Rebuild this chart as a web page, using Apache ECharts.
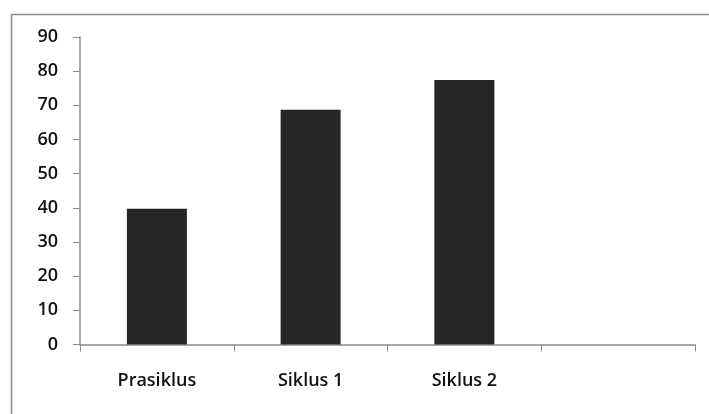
<!DOCTYPE html>
<html>
<head>
<meta charset="utf-8">
<style>
  html, body { margin: 0; padding: 0; background: #fff; }
  #chart { width: 709px; height: 414px; }
</style>
<script src="https://cdn.jsdelivr.net/npm/echarts@6/dist/echarts.min.js"></script>
</head>
<body>
<div id="chart"></div>
<script>
// Categories along the x axis (the last slot is left empty)
const categories = ['Prasiklus', 'Siklus 1', 'Siklus 2', ''];
// Bar values per category
const values = [39.7, 68.7, 77.4, null];
// Value axis range
const yMin = 0;
const yMax = 90;
const yStep = 10;

const chart = echarts.init(document.getElementById('chart'), null, { renderer: 'canvas' });

const labelFont = {
  fontFamily: 'Open Sans',
  fontSize: 18,
  fontWeight: 600,
  color: '#111111'
};

chart.setOption({
  animation: false,
  backgroundColor: '#ffffff',
  graphic: [{
    type: 'rect',
    left: 9,
    top: 12,
    shape: { width: 760, height: 460 },
    style: { fill: 'none', stroke: '#8a8a8a', lineWidth: 1.5 },
    silent: true
  }],
  grid: { left: 80, right: 14, top: 37, bottom: 69.5, containLabel: false },
  xAxis: {
    type: 'category',
    data: categories,
    boundaryGap: true,
    axisLine: { lineStyle: { color: '#8c8c8c', width: 1.5 } },
    axisTick: { show: true, alignWithLabel: false, length: 7, lineStyle: { color: '#8c8c8c' } },
    axisLabel: Object.assign({ margin: 27, interval: 0 }, labelFont),
    splitLine: { show: false }
  },
  yAxis: {
    type: 'value',
    min: yMin,
    max: yMax,
    interval: yStep,
    axisLine: { show: true, lineStyle: { color: '#8c8c8c', width: 1.5 } },
    axisTick: { show: true, length: 7, lineStyle: { color: '#8c8c8c' } },
    axisLabel: Object.assign({ margin: 22 }, labelFont),
    splitLine: { show: false }
  },
  series: [{
    type: 'bar',
    data: values,
    barWidth: 60,
    itemStyle: { color: '#262626' }
  }]
});
</script>
</body>
</html>
